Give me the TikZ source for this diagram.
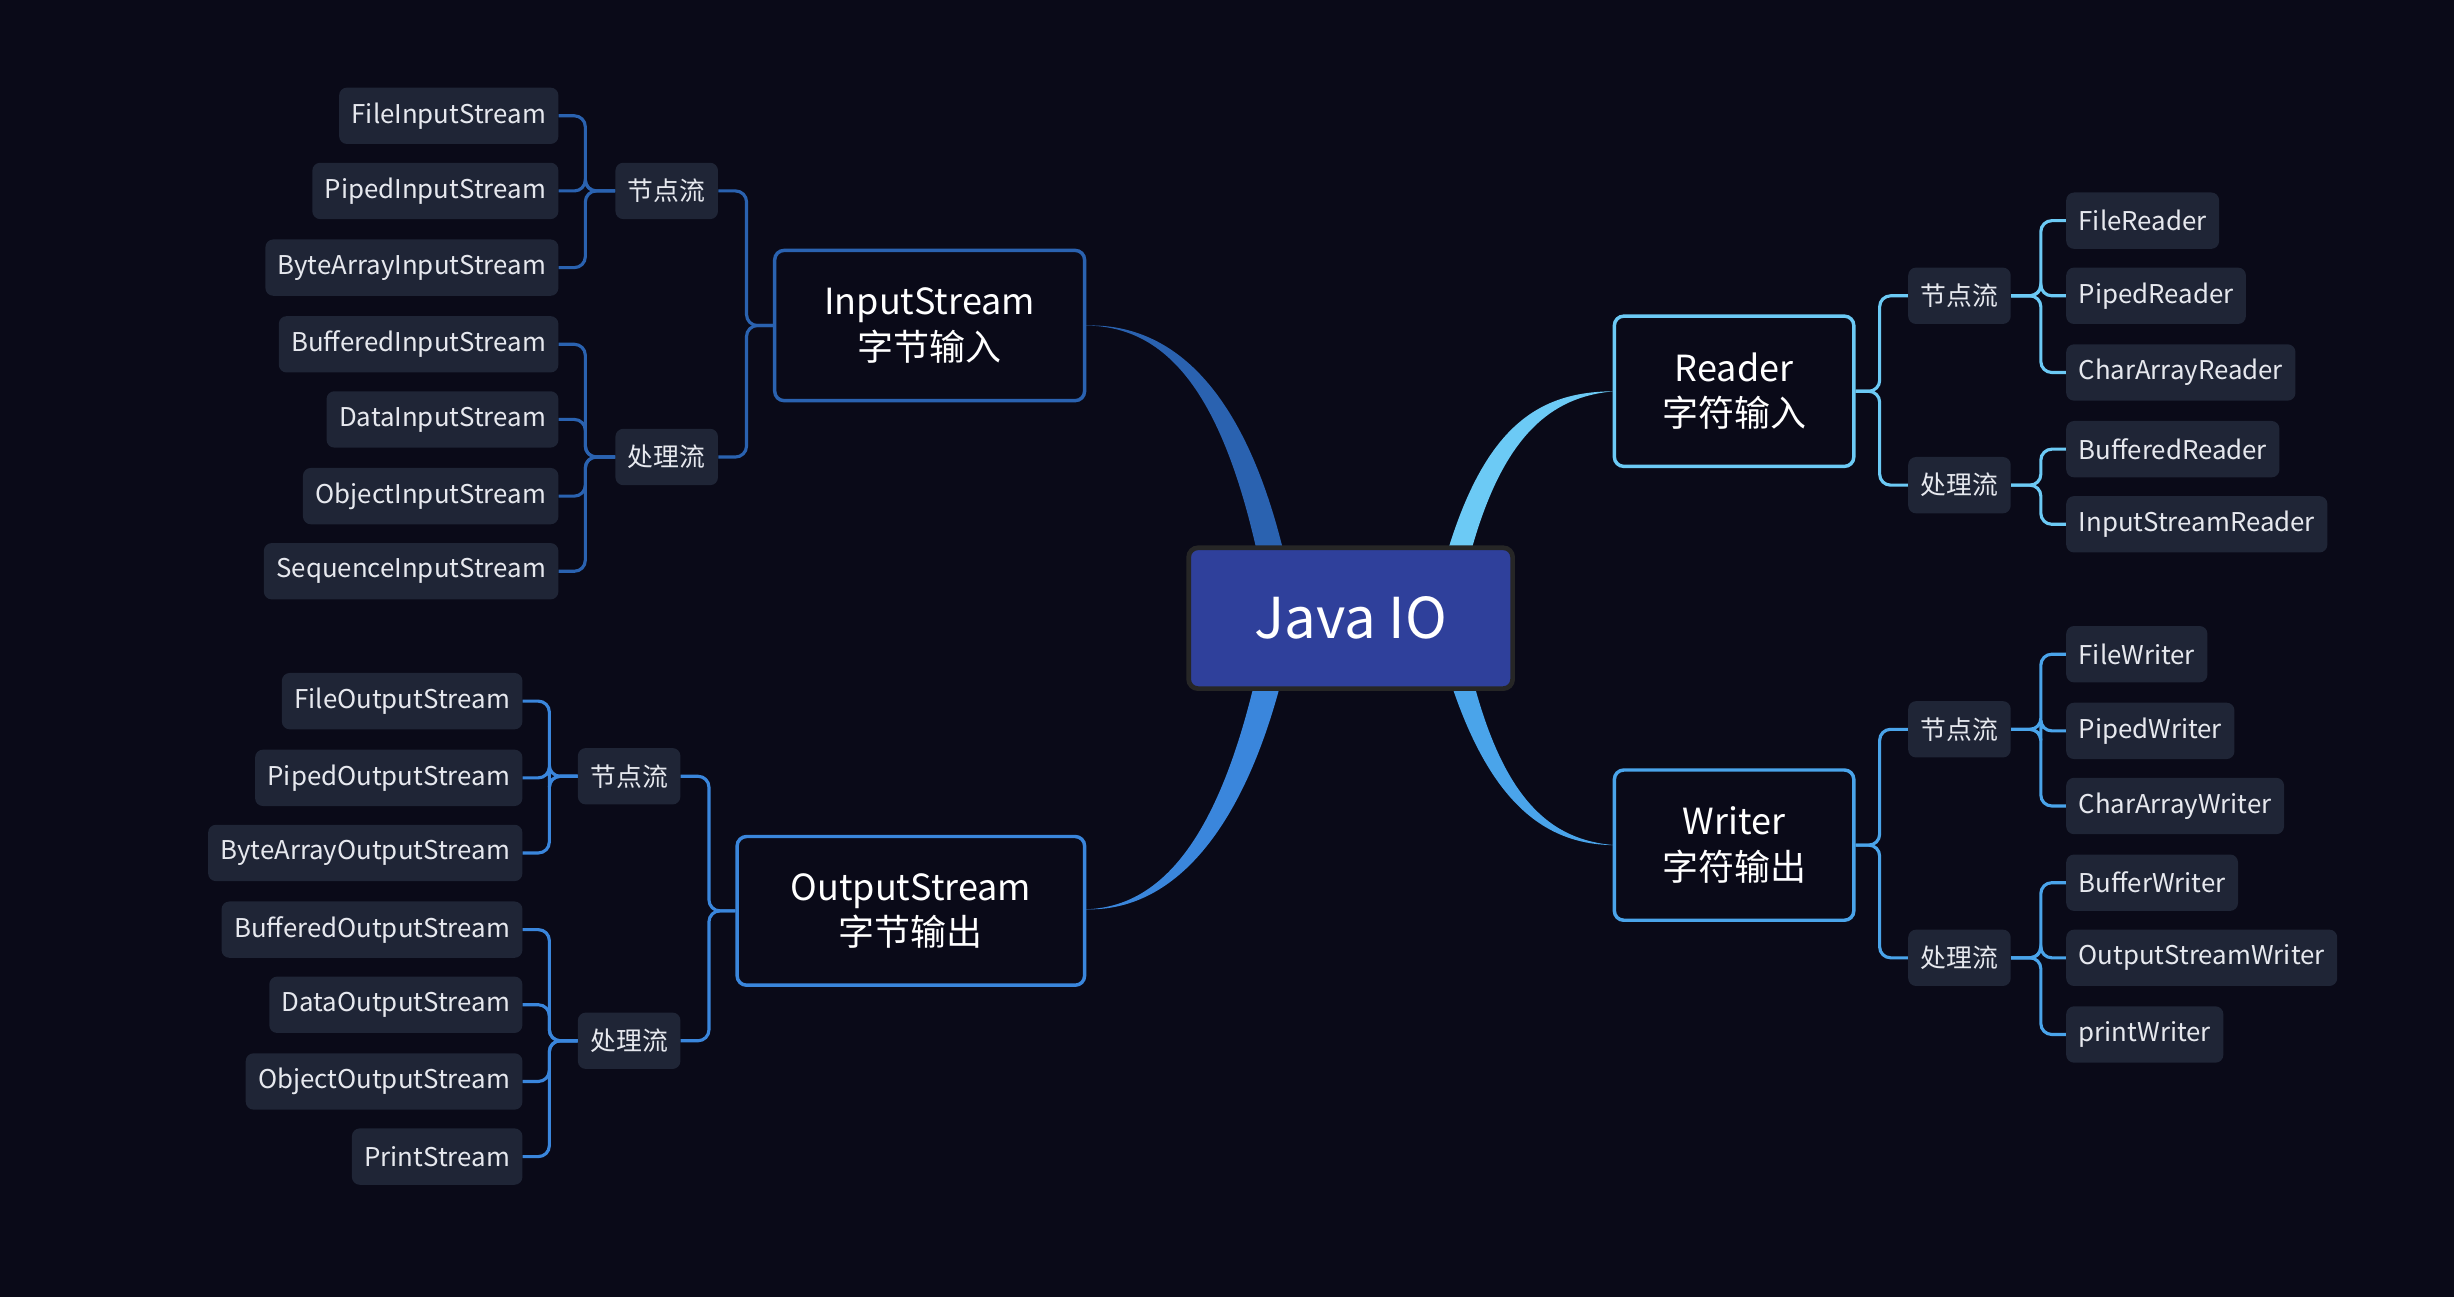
\documentclass[tikz,border=0pt]{standalone}
\usepackage{fontspec}
\setmainfont{Noto Sans CJK SC}
\begin{document}
\begin{tikzpicture}[x=1pt,y=-1pt,
 leaf/.style={fill=leafc,rounded corners=5,text=txt,font=\fontsize{16.5}{18}\selectfont,minimum height=36,inner xsep=8},
 cat/.style={leaf},
 main/.style={draw=#1,line width=2.2,rounded corners=6,fill=bg,text=white,font=\fontsize{23}{29}\selectfont,align=center,inner sep=0},
 br/.style={draw=#1,line width=2,rounded corners=7}]
\definecolor{bg}{HTML}{0A0A18}
\definecolor{leafc}{HTML}{1F2536}
\definecolor{txt}{HTML}{E6E8EE}
\definecolor{cin}{HTML}{2A62B0}
\definecolor{cout}{HTML}{3A86DC}
\definecolor{crd}{HTML}{6CCAF5}
\definecolor{cwr}{HTML}{4AA4EA}
\fill[bg] (0,0) rectangle (1568,829);
\useasboundingbox (0,0) rectangle (1568,829);
% branches
\fill[cin] (803,352) .. controls (780,250) and (745,208) .. (693,208) .. controls (750,206) and (795,250) .. (820,352) -- cycle;
\fill[cout] (803,430) .. controls (780,530) and (745,580) .. (693,581) .. controls (750,583) and (795,530) .. (820,430) -- cycle;
\fill[crd] (925,352) .. controls (950,270) and (985,250) .. (1032,250) .. controls (990,253) and (960,280) .. (940,352) -- cycle;
\fill[cwr] (925,430) .. controls (950,510) and (985,540) .. (1032,540) .. controls (990,537) and (960,510) .. (940,430) -- cycle;
% center
\node[draw=black!70!gray,line width=3,rounded corners=6,fill={rgb,255:red,47;green,64;blue,155},text=white,font=\fontsize{36}{40}\selectfont,minimum width=207,minimum height=90] (c) at (863,395) {Java IO};
% mains
\node[main=cin,minimum width=198,minimum height=96] (in) at (594,208) {InputStream\\字节输入};
\node[main=cout,minimum width=222,minimum height=95] (out) at (582,582) {OutputStream\\字节输出};
\node[main=crd,minimum width=153,minimum height=96] (rd) at (1108,250) {Reader\\字符输入};
\node[main=cwr,minimum width=153,minimum height=96] (wr) at (1108,540) {Writer\\字符输出};
% input
\node[cat] (in1) at (426,122) {节点流};
\node[cat] (in2) at (426,292) {处理流};
\foreach \c in {in1,in2}{\draw[br=cin] (in.west) -- (477,208) |- (\c.east);}
\foreach \t/\y in {FileInputStream/74,PipedInputStream/122,ByteArrayInputStream/171}{
 \node[leaf,anchor=east] (l\t) at (357,\y) {\t};
 \draw[br=cin] (in1.west) -- (374,122) |- (l\t.east);}
\foreach \t/\y in {BufferedInputStream/220,DataInputStream/268,ObjectInputStream/317,SequenceInputStream/365}{
 \node[leaf,anchor=east] (l\t) at (357,\y) {\t};
 \draw[br=cin] (in2.west) -- (374,292) |- (l\t.east);}
% output
\node[cat] (o1) at (402,496) {节点流};
\node[cat] (o2) at (402,665) {处理流};
\foreach \c in {o1,o2}{\draw[br=cout] (out.west) -- (453,582) |- (\c.east);}
\foreach \t/\y in {FileOutputStream/448,PipedOutputStream/497,ByteArrayOutputStream/545}{
 \node[leaf,anchor=east] (l\t) at (334,\y) {\t};
 \draw[br=cout] (o1.west) -- (351,496) |- (l\t.east);}
\foreach \t/\y in {BufferedOutputStream/594,DataOutputStream/642,ObjectOutputStream/691,PrintStream/739}{
 \node[leaf,anchor=east] (l\t) at (334,\y) {\t};
 \draw[br=cout] (o2.west) -- (351,665) |- (l\t.east);}
% reader
\node[cat] (r1) at (1252,189) {节点流};
\node[cat] (r2) at (1252,310) {处理流};
\foreach \c in {r1,r2}{\draw[br=crd] (rd.east) -- (1201,250) |- (\c.west);}
\foreach \t/\y in {FileReader/141,PipedReader/189,CharArrayReader/238}{
 \node[leaf,anchor=west] (l\t) at (1320,\y) {\t};
 \draw[br=crd] (r1.east) -- (1304,189) |- (l\t.west);}
\foreach \t/\y in {BufferedReader/287,InputStreamReader/335}{
 \node[leaf,anchor=west] (l\t) at (1320,\y) {\t};
 \draw[br=crd] (r2.east) -- (1304,310) |- (l\t.west);}
% writer
\node[cat] (w1) at (1252,466) {节点流};
\node[cat] (w2) at (1252,612) {处理流};
\foreach \c in {w1,w2}{\draw[br=cwr] (wr.east) -- (1201,540) |- (\c.west);}
\foreach \t/\y in {FileWriter/418,PipedWriter/467,CharArrayWriter/515}{
 \node[leaf,anchor=west] (l\t) at (1320,\y) {\t};
 \draw[br=cwr] (w1.east) -- (1304,466) |- (l\t.west);}
\foreach \t/\y in {BufferWriter/564,OutputStreamWriter/612,printWriter/661}{
 \node[leaf,anchor=west] (l\t) at (1320,\y) {\t};
 \draw[br=cwr] (w2.east) -- (1304,612) |- (l\t.west);}
\end{tikzpicture}
\end{document}
